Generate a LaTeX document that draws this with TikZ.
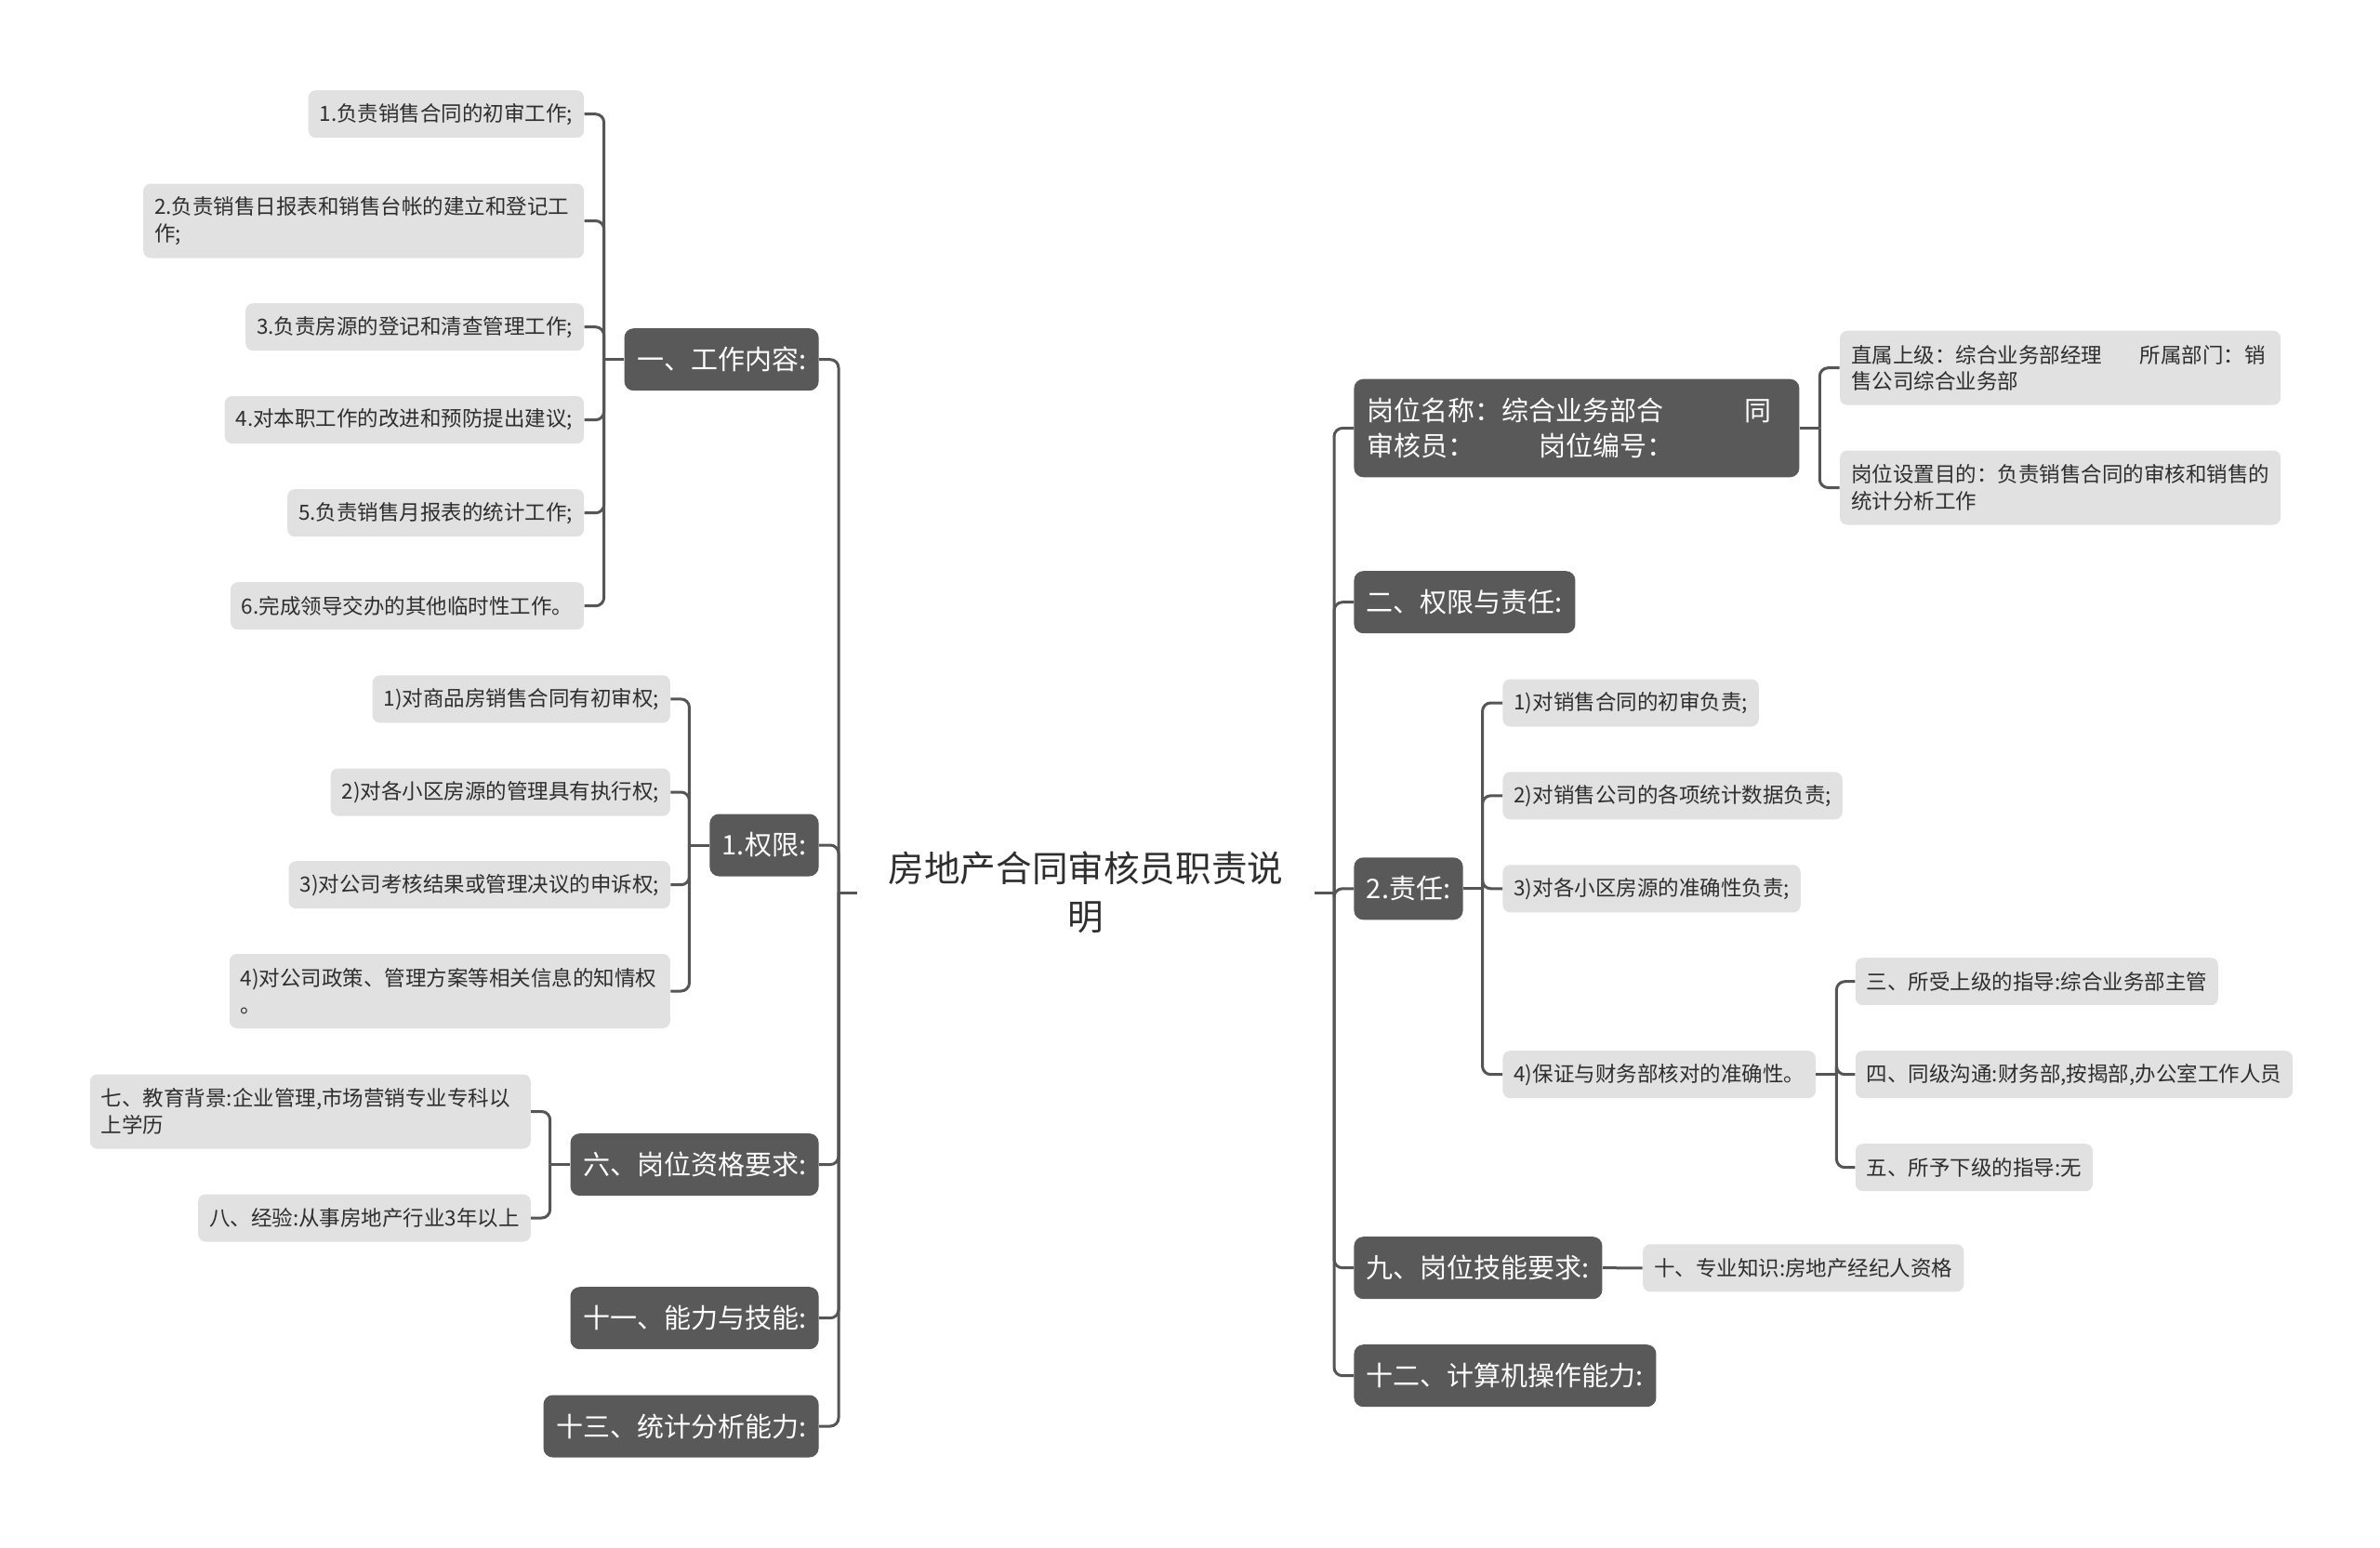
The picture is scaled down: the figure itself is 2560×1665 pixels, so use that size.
\documentclass[tikz,border=0pt]{standalone}
\usepackage{fontspec}
\setmainfont{Noto Sans CJK SC}
\definecolor{darkbox}{HTML}{595959}
\definecolor{leafc}{HTML}{E1E1E1}
\definecolor{linec}{HTML}{555555}
\definecolor{txt}{HTML}{2E2E2E}
\tikzset{
  link/.style={draw=linec, line width=1.5pt, rounded corners=4.5pt},
  lone/.style={fill=darkbox, text=white, rounded corners=5pt,
    font=\fontsize{14.5}{19.15}\selectfont, minimum height=33.5pt,
    inner xsep=6.75pt, inner ysep=2pt},
  leaf/.style={fill=leafc, text=txt, rounded corners=4pt,
    font=\fontsize{11.25}{14.25}\selectfont, minimum height=25.5pt,
    inner xsep=6pt, inner ysep=2pt},
  wide/.style={text width=225pt, align=left, minimum height=40pt},
  rootn/.style={text=txt, font=\fontsize{19.3}{25.8}\selectfont,
    text width=246pt, align=center, inner sep=0pt},
}
\begin{document}
\begin{tikzpicture}[x=0.5pt,y=-0.5pt]
\fill[white] (0,0) rectangle (2560,1665);
\useasboundingbox (0,0) rectangle (2560,1665);

% root
\node[rootn] (root) at (1168,960) {房地产合同审核员职责说\\明};

% left level 1
\node[lone, anchor=east] (g1) at (881,386.7) {一、工作内容:};
\node[lone, anchor=east] (g2) at (881,909) {1.权限:};
\node[lone, anchor=east] (g6) at (881,1252.6) {六、岗位资格要求:};
\node[lone, anchor=east] (g11) at (881,1417.7) {十一、能力与技能:};
\node[lone, anchor=east] (g13) at (881,1534) {十三、统计分析能力:};

% leaves of g1
\node[leaf, anchor=east] (a1) at (628.6,122.7) {1.负责销售合同的初审工作;};
\node[leaf, wide, anchor=east] (a2) at (628.6,237.5) {2.负责销售日报表和销售台帐的建立和登记工\\作;};
\node[leaf, anchor=east] (a3) at (628.6,351.7) {3.负责房源的登记和清查管理工作;};
\node[leaf, anchor=east] (a4) at (628.6,451.6) {4.对本职工作的改进和预防提出建议;};
\node[leaf, anchor=east] (a5) at (628.6,551.7) {5.负责销售月报表的统计工作;};
\node[leaf, anchor=east] (a6) at (628.6,651.7) {6.完成领导交办的其他临时性工作。};

% leaves of g2
\node[leaf, anchor=east] (b1) at (721.3,751.9) {1)对商品房销售合同有初审权;};
\node[leaf, anchor=east] (b2) at (721.3,852) {2)对各小区房源的管理具有执行权;};
\node[leaf, anchor=east] (b3) at (721.3,951.7) {3)对公司考核结果或管理决议的申诉权;};
\node[leaf, wide, anchor=east] (b4) at (721.3,1066) {4)对公司政策、管理方案等相关信息的知情权\\。};

% leaves of g6
\node[leaf, wide, anchor=east] (c7) at (571.2,1195.5) {七、教育背景:企业管理,市场营销专业专科以\\上学历};
\node[leaf, anchor=east] (c8) at (571.2,1310) {八、经验:从事房地产行业3年以上};

% right level 1
\node[lone, anchor=west, text width=225.5pt, align=left, minimum height=52.8pt, inner xsep=7pt] (r1) at (1456,460.5) {岗位名称：综合业务部合\hspace*{3em}同\\审核员：\hspace*{2.4em}岗位编号：};
\node[lone, anchor=west] (r2) at (1456,647.7) {二、权限与责任:};
\node[lone, anchor=west] (r3) at (1456,955.8) {2.责任:};
\node[lone, anchor=west] (r9) at (1456,1363.7) {九、岗位技能要求:};
\node[lone, anchor=west] (r12) at (1456,1479.7) {十二、计算机操作能力:};

% leaves of r1
\node[leaf, wide, anchor=west] (d1) at (1978.7,395.7) {直属上级：综合业务部经理\hspace*{1.8em}所属部门：销\\售公司综合业务部};
\node[leaf, wide, anchor=west] (d2) at (1978.7,524.5) {岗位设置目的：负责销售合同的审核和销售的\\统计分析工作};

% leaves of r3
\node[leaf, anchor=west] (e1) at (1616,756) {1)对销售合同的初审负责;};
\node[leaf, anchor=west] (e2) at (1616,855.8) {2)对销售公司的各项统计数据负责;};
\node[leaf, anchor=west] (e3) at (1616,955.8) {3)对各小区房源的准确性负责;};
\node[leaf, anchor=west] (e4) at (1616,1155.7) {4)保证与财务部核对的准确性。};

% leaves of e4
\node[leaf, anchor=west] (f3) at (1995.4,1055.7) {三、所受上级的指导:综合业务部主管};
\node[leaf, anchor=west] (f4) at (1995.4,1155.7) {四、同级沟通:财务部,按揭部,办公室工作人员};
\node[leaf, anchor=west] (f5) at (1995.4,1255.7) {五、所予下级的指导:无};

% leaf of r9
\node[leaf, anchor=west] (t10) at (1766.7,1363.8) {十、专业知识:房地产经纪人资格};

% connectors: root
\coordinate (sL) at (902,960);
\coordinate (sR) at (1435,960);
\draw[link] (root.west) -- (sL);
\draw[link] (root.east) -- (sR);
\foreach \n in {g1,g2,g6,g11,g13} \draw[link] (sL) |- (\n.east);
\foreach \n in {r1,r2,r3,r9,r12} \draw[link] (sR) |- (\n.west);

% left sub groups
\coordinate (s1) at ([xshift=-10.75pt]g1.west);
\draw[link] (g1.west) -- (s1);
\foreach \n in {a1,a2,a3,a4,a5,a6} \draw[link] (s1) |- (\n.east);

\coordinate (s2) at ([xshift=-10.75pt]g2.west);
\draw[link] (g2.west) -- (s2);
\foreach \n in {b1,b2,b3,b4} \draw[link] (s2) |- (\n.east);

\coordinate (s6) at ([xshift=-10.75pt]g6.west);
\draw[link] (g6.west) -- (s6);
\foreach \n in {c7,c8} \draw[link] (s6) |- (\n.east);

% right sub groups
\coordinate (t1) at ([xshift=10.75pt]r1.east);
\draw[link] (r1.east) -- (t1);
\foreach \n in {d1,d2} \draw[link] (t1) |- (\n.west);

\coordinate (t3) at ([xshift=10.25pt]r3.east);
\draw[link] (r3.east) -- (t3);
\foreach \n in {e1,e2,e3,e4} \draw[link] (t3) |- (\n.west);

\coordinate (t4) at ([xshift=11pt]e4.east);
\draw[link] (e4.east) -- (t4);
\foreach \n in {f3,f4,f5} \draw[link] (t4) |- (\n.west);

\draw[link] (r9.east) -- (t10.west);
\end{tikzpicture}
\end{document}
